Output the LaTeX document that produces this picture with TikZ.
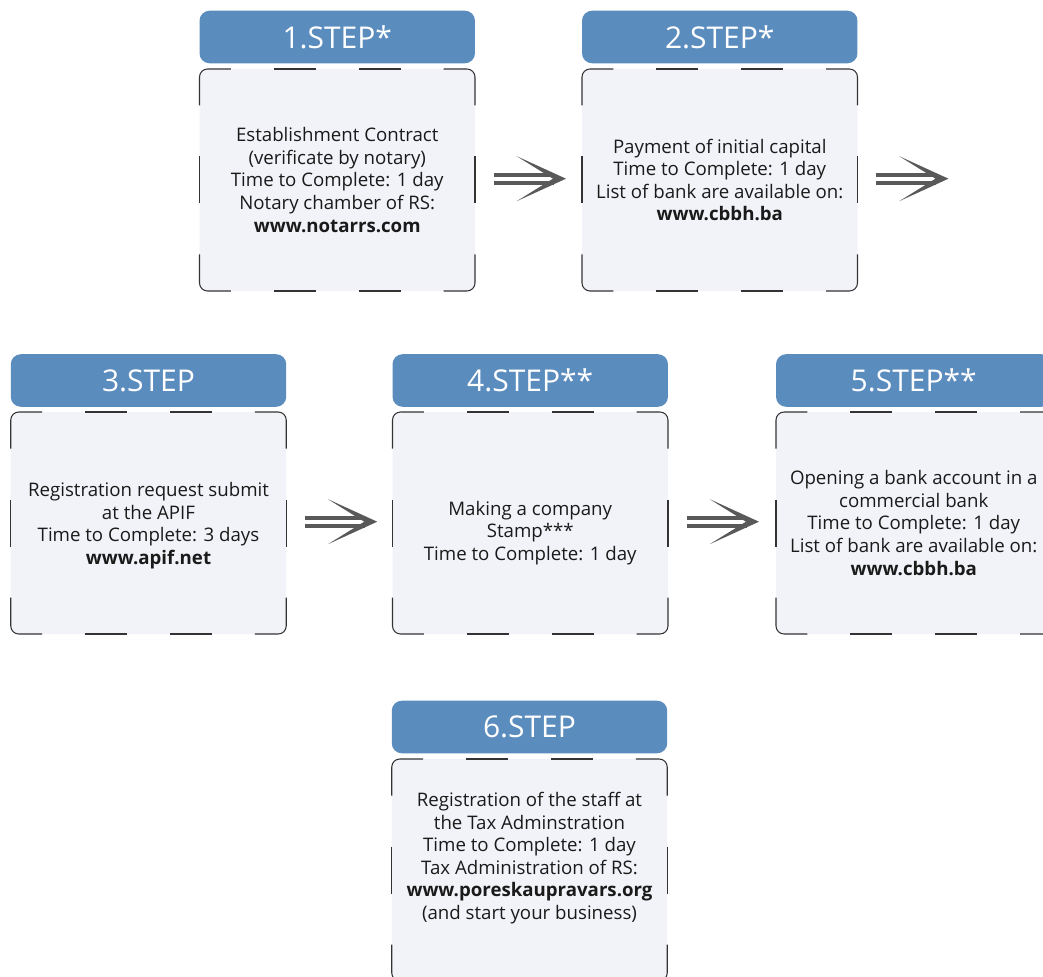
\documentclass[tikz,border=0pt]{standalone}
\usepackage{fontspec}
\setmainfont{Open Sans}
\usetikzlibrary{calc}
\definecolor{headblue}{RGB}{91,140,190}
\definecolor{bodyfill}{RGB}{242,243,249}
\definecolor{arrowgray}{RGB}{89,89,89}
\definecolor{txt}{RGB}{26,26,26}
\tikzset{
 head/.style={fill=headblue, rounded corners=7.5pt, minimum width=206.6pt, minimum height=39.4pt,
   inner sep=0pt, outer sep=0pt, text=white, font=\fontsize{22.5}{27}\selectfont},
 body/.style={fill=bodyfill, rounded corners=6pt, minimum width=206.6pt, minimum height=166.5pt,
   inner sep=0pt, outer sep=0pt, align=center, text=txt, font=\fontsize{14}{16.9}\selectfont},
 bodytext/.style={align=center, text=txt, inner sep=0pt, font=\fontsize{14}{16.9}\selectfont},
 border/.style={draw=black!80, line width=0.8pt, rounded corners=6pt},
}
\newcommand\bodyborder[1]{%
 \draw[border] ($(#1.north west)+(0,36.5)$) -- (#1.north west) -- ($(#1.north west)+(31.25,0)$);
 \draw[border] ($(#1.north east)+(-31.25,0)$) -- (#1.north east) -- ($(#1.north east)+(0,36.5)$);
 \draw[border] ($(#1.south east)+(0,-36.5)$) -- (#1.south east) -- ($(#1.south east)+(-31.25,0)$);
 \draw[border] ($(#1.south west)+(31.25,0)$) -- (#1.south west) -- ($(#1.south west)+(0,-36.5)$);
 \draw[border] ($(#1.north)+(-63.5,0)$) -- ($(#1.north)+(-21.5,0)$);
 \draw[border] ($(#1.north)+(21.5,0)$) -- ($(#1.north)+(63.5,0)$);
 \draw[border] ($(#1.south)+(-63.5,0)$) -- ($(#1.south)+(-21.5,0)$);
 \draw[border] ($(#1.south)+(21.5,0)$) -- ($(#1.south)+(63.5,0)$);
 \draw[border] ($(#1.west)+(0,-23.5)$) -- ($(#1.west)+(0,23.5)$);
 \draw[border] ($(#1.east)+(0,-23.5)$) -- ($(#1.east)+(0,23.5)$);
}
\newcommand\stepArrow[2]{%
 \begin{scope}[shift={($(#1.east)+(19,-1.3)$)}]
  \fill[arrowgray] (0,-6) rectangle (60,-2);
  \fill[arrowgray] (0,2) rectangle (60,6);
  \fill[arrowgray] (22.7,-22.5) -- (72,0) -- (22.7,22.5) -- (59,0) -- cycle;
 \end{scope}}
\begin{document}
\begin{tikzpicture}[x=0.75pt,y=-0.75pt]
\useasboundingbox (0,0) rectangle (1043,977);
\clip (0,0) rectangle (1043,977);
\fill[white] (0,0) rectangle (1043,977);
% row 1
\node[head] (h1) at (337.25,37) {1.STEP*};
\node[body] (b1) at (337.25,180) {Establishment Contract\\(verificate by notary)\\Time to Complete: 1 day\\Notary chamber of RS:\\\textbf{www.notarrs.com}};
\node[head] (h2) at (719.75,37) {2.STEP*};
\node[body] (b2) at (719.75,180) {Payment of initial capital\\Time to Complete: 1 day\\List of bank are available on:\\\textbf{www.cbbh.ba}};
% row 2
\node[head] (h3) at (148.5,380.5) {3.STEP};
\node[body] (b3) at (148.5,523) {};
\node[bodytext] (t3) at (148.5,525.5) {Registration request submit\\at the APIF\\Time to Complete: 3 days\\\textbf{www.apif.net}};
\node[head] (h4) at (530.25,380.5) {4.STEP**};
\node[body] (b4) at (530.25,523) {};
\node[bodytext] (t4) at (530.25,533) {Making a company\\Stamp***\\Time to Complete: 1 day};
\node[head] (h5) at (913.75,380.5) {5.STEP**};
\node[body] (b5) at (913.75,523) {Opening a bank account in a\\commercial bank\\Time to Complete: 1 day\\List of bank are available on:\\\textbf{www.cbbh.ba}};
% row 3
\node[head] (h6) at (529.5,727) {6.STEP};
\node[body] (b6) at (529.5,870) {};
\node[bodytext] (t6) at (529.5,858) {Registration of the staff at\\the Tax Adminstration\\Time to Complete: 1 day\\Tax Administration of RS:\\\textbf{www.poreskaupravars.org}\\(and start your business)};
% borders
\bodyborder{b1}\bodyborder{b2}\bodyborder{b3}\bodyborder{b4}\bodyborder{b5}\bodyborder{b6}
% arrows
\stepArrow{b1}{b2}
\stepArrow{b2}{h3}
\stepArrow{b3}{b4}
\stepArrow{b4}{b5}
\end{tikzpicture}
\end{document}
